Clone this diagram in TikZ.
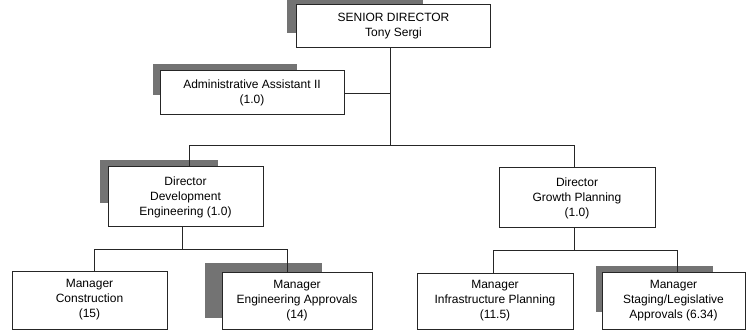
\documentclass[tikz,border=0pt]{standalone}
\usepackage{fontspec}
\setmainfont{Liberation Sans}
\begin{document}
\begin{tikzpicture}[x=1pt,y=-1pt,
  box/.style={draw=black!85, line width=1pt, fill=white, align=center, inner sep=0pt, font=\fontsize{12}{15}\selectfont},
  shade/.style={fill=black!55},
  conn/.style={draw=black!85, line width=0.9pt}]
\useasboundingbox (0,0) rectangle (747,331);
% shadows
\fill[shade] (287,0) rectangle (423,33);
\fill[shade] (153,64) rectangle (297,95);
\fill[shade] (100,160) rectangle (218,203);
\fill[shade] (205,263) rectangle (322,318);
\fill[shade] (596,266) rectangle (713,312);
% boxes
\node[box, minimum width=194pt, minimum height=43pt] (sd) at (393.5,26.5) {SENIOR DIRECTOR\\Tony Sergi};
\node[box, minimum width=184pt, minimum height=44pt] (aa) at (252,93) {Administrative Assistant II\\(1.0)};
\node[box, minimum width=155pt, minimum height=60pt] (dde) at (185.5,197) {Director\\Development\\Engineering (1.0)};
\node[box, minimum width=156pt, minimum height=60pt] (dgp) at (577,198) {Director\\Growth Planning\\(1.0)};
\node[box, minimum width=155pt, minimum height=58pt] (mc) at (89.5,300) {Manager\\Construction\\(15)};
\node[box, minimum width=150pt, minimum height=57pt] (mea) at (297,300.5) {Manager\\Engineering Approvals\\(14)};
\node[box, minimum width=156pt, minimum height=56pt] (mip) at (495,301) {Manager\\Infrastructure Planning\\(11.5)};
\node[box, minimum width=143pt, minimum height=57pt] (msl) at (673.5,300.5) {Manager\\Staging/Legislative\\Approvals (6.34)};
% connectors
\coordinate (t1) at (390,145);
\draw[conn] (sd.south -| t1) -- (t1);
\draw[conn] (aa.east) -- (aa.east -| t1);
\coordinate (b1l) at (189,145);
\coordinate (b1r) at (574,145);
\draw[conn] (dde.north -| b1l) -- (b1l) -- (b1r) -- (dgp.north -| b1r);
\coordinate (d1) at (182,249);
\draw[conn] (dde.south -| d1) -- (d1);
\coordinate (b2l) at (94,249);
\coordinate (b2r) at (287,249);
\draw[conn] (mc.north -| b2l) -- (b2l) -- (b2r) -- (mea.north -| b2r);
\coordinate (d2) at (574,250);
\draw[conn] (dgp.south -| d2) -- (d2);
\coordinate (b3l) at (493,250);
\coordinate (b3r) at (677,250);
\draw[conn] (mip.north -| b3l) -- (b3l) -- (b3r) -- (msl.north -| b3r);
\end{tikzpicture}
\end{document}
